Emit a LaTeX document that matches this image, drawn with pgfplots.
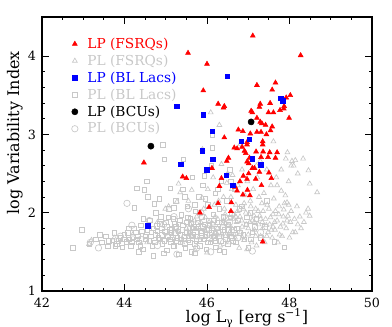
\documentclass[border=0pt]{standalone}
\usepackage{pgfplots}
\pgfplotsset{compat=1.18}
\usepackage{fontspec}
\setmainfont{DejaVu Serif}
\usetikzlibrary{calc}
\definecolor{lgr}{RGB}{200,200,200}
\begin{document}
\begin{tikzpicture}
\begin{axis}[
  scale only axis, width=247.5pt, height=205.5pt,
  xmin=42, xmax=50, ymin=1, ymax=4.5,
  xtick={42,44,46,48,50}, ytick={1,2,3,4},
  minor x tick num=3, minor y tick num=4,
  tick align=inside, tick pos=both,
  major tick length=5pt, minor tick length=2.5pt,
  every tick/.style={black, line width=0.6pt},
  axis line style={black, line width=0.8pt},
  /pgf/number format/assume math mode=true,
  ticklabel style={font=\fontsize{9.5}{11}\selectfont},
  xticklabel style={yshift=-1.5pt},
  yticklabel style={xshift=-1pt},
  xlabel={log L\textsubscript{γ} [erg s\textsuperscript{−1}]},
  ylabel={log Variability Index},
  xlabel style={font=\fontsize{12}{13}\selectfont, at={(axis description cs:0.621,-0.099)}, anchor=center},
  ylabel style={font=\fontsize{12}{13}\selectfont, at={(axis description cs:-0.082,0.577)}, anchor=center},
  legend style={at={(0.085,0.94)}, anchor=north west, draw=none, fill=none,
    font=\fontsize{10.3}{11.5}\selectfont, row sep=-0.6pt, inner sep=1pt},
  legend cell align=left,
]
% PL BL Lacs (grey open squares)
\addplot[only marks, mark=square, mark size=1.7pt, lgr, line width=0.5pt, forget plot] coordinates {
(42.75,1.55)(42.96,1.78)(43.15,1.60)(43.30,1.66)(43.45,1.62)(43.55,1.70)(43.60,1.57)(43.70,1.65)
(43.75,1.74)(43.82,1.60)(43.90,1.68)(43.95,1.56)(44.00,1.72)(44.05,1.63)(44.10,1.80)(44.15,1.58)
(44.20,1.69)(44.24,2.06)(44.30,2.31)(44.28,1.75)(44.35,1.62)(44.40,1.84)(44.45,1.53)(44.48,2.29)
(44.50,1.70)(44.54,2.40)(44.56,2.20)(44.55,1.78)(44.60,1.64)(44.62,1.90)(44.68,1.58)(44.70,1.45)
(44.72,2.11)(44.75,1.72)(44.78,1.83)(44.84,2.18)(44.85,1.66)(44.88,1.95)(44.93,2.87)(44.96,2.68)
(44.92,1.60)(44.98,1.76)(45.00,1.88)(45.02,1.52)(45.05,1.70)(45.08,2.05)(45.11,2.31)(45.12,1.63)
(45.15,1.80)(45.18,1.92)(45.20,1.57)(45.22,1.74)(45.25,2.15)(45.28,1.68)(45.30,1.85)(45.32,1.47)
(45.35,1.62)(45.38,1.97)(45.40,1.78)(45.42,2.30)(45.43,2.68)(45.45,1.70)(45.48,1.55)(45.50,1.88)
(45.52,2.08)(45.55,1.65)(45.58,1.75)(45.60,1.93)(45.62,1.50)(45.65,2.45)(45.68,1.82)(45.70,1.60)
(45.72,2.02)(45.75,1.70)(45.78,1.88)(45.80,2.20)(45.82,1.58)(45.85,1.77)(45.88,1.95)(45.90,2.35)
(45.92,1.66)(45.94,2.47)(45.95,1.85)(45.98,1.53)(46.00,1.72)(46.02,2.10)(46.05,1.90)(46.08,1.62)
(46.10,2.60)(46.13,2.83)(46.13,2.99)(46.12,1.80)(46.15,1.98)(46.18,1.68)(46.20,2.25)(46.22,1.56)
(46.25,1.88)(46.28,1.75)(46.30,2.05)(46.33,1.64)(46.35,2.40)(46.38,1.82)(46.40,1.95)(46.42,1.50)
(46.45,1.72)(46.48,2.15)(46.50,1.60)(46.52,1.85)(46.55,2.55)(46.58,1.70)(46.60,1.98)(46.65,1.78)
(46.68,2.30)(46.70,1.62)(46.75,1.90)(46.80,1.74)(46.85,2.08)(46.90,1.66)(46.95,1.85)(47.00,1.55)
(47.05,2.00)(47.10,1.75)(47.20,1.92)(47.30,1.68)(47.40,1.82)(47.63,1.63)(47.88,1.56)(47.45,2.15)
(44.65,1.75)(44.82,1.68)(45.10,1.78)(45.35,1.72)(45.62,1.70)(45.88,1.74)(46.15,1.70)(46.42,1.78)
(44.30,1.66)(44.90,1.80)(45.25,1.82)(45.65,1.80)(46.05,1.78)(46.60,1.68)(43.85,1.64)(44.12,1.66)
(43.40,1.72)(43.62,1.64)(43.78,1.58)(43.98,1.66)(44.08,1.74)(44.18,1.62)(44.22,1.80)(44.32,1.70)
(44.38,1.58)(44.42,1.76)(44.52,1.66)(44.58,1.84)(44.64,1.70)(44.70,1.80)(44.74,1.62)(44.80,1.76)
(44.86,1.86)(44.90,1.72)(44.96,1.64)(45.02,1.82)(45.06,1.94)(45.10,1.66)(45.14,1.74)(45.18,1.58)
(45.22,1.86)(45.26,1.64)(45.30,1.76)(45.34,1.90)(45.38,1.66)(45.42,1.84)(45.46,1.60)(45.50,1.74)
(45.54,1.94)(45.58,1.62)(45.62,1.86)(45.66,1.72)(45.70,2.10)(45.74,1.64)(45.78,1.80)(45.84,1.66)
(45.90,1.82)(45.96,1.70)(46.02,1.62)(46.06,1.84)(46.10,1.74)(46.16,1.90)(46.20,1.64)(46.24,1.80)
(46.30,1.70)(46.36,1.88)(46.44,1.66)(46.50,1.78)(46.56,1.94)(46.62,1.64)(46.72,1.80)(46.78,2.05)
(46.88,1.72)(46.96,1.94)(47.06,1.66)(47.16,1.82)(44.46,1.92)(44.76,2.00)(45.20,2.06)(45.46,2.20)
(45.96,2.18)(46.26,2.30)(46.58,2.40)(44.35,1.50)(44.95,1.48)(45.70,1.48)(46.30,1.52)
};
% PL FSRQs (grey open triangles)
\addplot[only marks, mark=triangle, mark size=2.1pt, lgr, line width=0.5pt, forget plot] coordinates {
(43.14,1.60)(43.20,1.65)(43.75,1.68)(44.20,1.72)(44.55,1.62)(44.80,1.88)(44.99,2.05)(45.07,2.08)
(45.15,1.70)(45.28,1.77)(45.27,2.14)(45.31,2.37)(45.35,2.26)(45.40,1.62)(45.55,2.15)(45.60,1.85)
(45.63,2.29)(45.71,1.52)(45.75,1.95)(45.80,1.68)(45.88,2.19)(45.89,2.81)(45.92,2.05)(45.95,1.78)
(46.00,1.49)(46.02,2.30)(46.05,1.88)(46.09,3.28)(46.10,1.65)(46.15,2.45)(46.20,1.95)(46.22,1.75)
(46.28,2.15)(46.30,3.12)(46.32,1.58)(46.35,2.62)(46.38,1.85)(46.42,2.05)(46.45,1.70)(46.48,2.38)
(46.50,1.92)(46.55,1.62)(46.58,2.20)(46.60,1.80)(46.62,2.48)(46.65,1.98)(46.68,1.68)(46.70,2.10)
(46.72,1.88)(46.75,2.35)(46.78,1.55)(46.80,1.95)(46.81,2.88)(46.82,1.75)(46.85,2.55)(46.88,2.05)
(46.90,1.65)(46.92,2.22)(46.95,1.85)(46.97,1.53)(46.98,2.40)(47.00,1.72)(47.02,1.98)(47.05,2.15)
(47.08,1.62)(47.10,1.90)(47.12,2.30)(47.15,1.78)(47.18,2.05)(47.20,1.58)(47.22,2.45)(47.25,1.85)
(47.28,1.96)(47.29,2.66)(47.30,1.70)(47.33,2.12)(47.35,1.80)(47.38,2.25)(47.40,1.62)(47.42,1.92)
(47.45,2.55)(47.48,1.75)(47.50,2.05)(47.52,1.85)(47.55,2.35)(47.58,1.68)(47.60,1.98)(47.61,2.91)
(47.62,2.18)(47.65,1.78)(47.68,2.45)(47.70,1.90)(47.72,1.62)(47.75,2.08)(47.78,1.82)(47.80,2.28)
(47.82,1.70)(47.85,1.95)(47.88,2.12)(47.90,2.22)(47.91,2.69)(47.92,1.80)(47.94,1.90)(47.94,2.13)
(47.95,2.77)(47.98,2.10)(47.98,2.40)(48.00,1.68)(48.02,1.88)(48.04,2.60)(48.06,2.66)(48.08,1.75)
(48.10,2.60)(48.14,2.67)(48.14,1.75)(48.20,1.85)(48.25,1.95)(48.33,2.69)(48.45,2.05)(48.46,2.54)
(48.49,1.96)(48.49,2.37)(48.67,2.26)(46.25,1.80)(46.55,1.75)(46.85,1.82)(47.15,1.88)(47.45,1.70)
(46.40,1.90)(46.70,1.95)(47.00,1.80)(47.30,1.92)(47.60,1.82)(46.10,1.82)(45.85,1.88)(45.50,1.80)
(45.60,1.72)(45.70,1.90)(45.82,1.80)(45.96,1.94)(46.04,1.72)(46.14,1.86)(46.18,2.10)(46.26,1.92)
(46.34,1.72)(46.44,1.98)(46.52,1.84)(46.62,1.92)(46.66,1.72)(46.74,2.02)(46.84,1.90)(46.86,1.68)
(46.94,2.00)(47.04,1.88)(47.06,2.08)(47.14,1.96)(47.18,1.70)(47.24,2.02)(47.26,2.20)(47.34,1.88)
(47.36,2.02)(47.44,1.84)(47.46,2.10)(47.54,1.94)(47.56,1.78)(47.64,1.88)(47.66,2.02)(47.74,1.98)
(47.76,1.72)(47.84,1.86)(47.86,2.04)(47.96,1.96)(48.04,2.02)(48.12,1.92)(48.18,2.08)(48.28,1.80)
(48.35,1.88)(48.40,2.00)(46.90,2.12)(46.60,2.30)(46.40,2.20)(47.70,2.35)(47.80,2.55)(48.20,2.50)
(47.20,2.60)(46.50,2.50)
};
% PL BCUs (grey open circles)
\addplot[only marks, mark=o, mark size=2.4pt, lgr, line width=0.5pt, forget plot] coordinates {
(43.17,1.62)(43.37,1.55)(44.06,2.12)(44.18,1.84)(43.90,1.70)(44.40,1.66)(44.60,1.90)(44.80,1.58)
(45.00,1.75)(45.27,1.47)(45.20,1.95)(45.45,1.68)(45.60,1.80)(45.75,1.55)(45.85,2.00)(46.09,1.50)
(46.20,1.72)(46.40,1.62)(46.55,1.88)(46.75,1.68)(47.10,1.51)(47.30,1.75)(44.95,1.85)(45.55,2.05)
(46.00,1.80)
};
% LP FSRQs (red filled triangles)
\addplot[only marks, mark=triangle*, mark size=2.1pt, red, forget plot] coordinates {
(47.11,4.26)(45.54,4.04)(48.27,4.01)(46.00,3.90)(45.91,3.56)(47.21,3.63)(47.66,3.66)(47.58,3.57)
(48.02,3.50)(47.92,3.47)(46.27,3.39)(46.42,3.36)(46.40,3.34)(47.29,3.39)(47.27,3.35)(47.53,3.40)
(47.87,3.36)(47.86,3.33)(47.77,3.31)(47.07,3.30)(47.10,3.28)(47.49,3.28)(47.61,3.28)(47.21,3.21)
(47.99,3.21)(47.29,3.16)(47.33,3.14)(47.42,3.12)(47.58,3.10)(47.54,3.05)(46.76,3.06)(46.87,3.04)
(47.05,3.01)(47.21,3.03)(47.31,3.03)(47.44,3.00)(46.42,2.96)(47.35,2.91)(47.35,2.87)(46.97,2.90)
(46.97,2.87)(46.85,2.84)(46.66,2.83)(46.73,2.82)(46.91,2.79)(46.94,2.76)(47.19,2.78)(47.36,2.78)
(47.52,2.77)(47.70,2.77)(47.66,2.70)(47.03,2.70)(46.52,2.70)(46.48,2.66)(47.31,2.71)(47.48,2.71)
(46.97,2.65)(47.01,2.63)(46.12,2.57)(47.10,2.57)(47.15,2.57)(47.27,2.52)(47.50,2.51)(47.01,2.50)
(45.41,2.46)(45.50,2.44)(46.35,2.44)(46.88,2.47)(47.56,2.44)(47.18,2.43)(46.97,2.43)(46.80,2.40)
(46.30,2.34)(47.32,2.35)(46.68,2.33)(44.47,2.64)(46.73,2.28)(46.98,2.29)(46.87,2.23)(47.04,2.22)
(46.27,2.12)(46.59,2.13)(46.05,2.07)(46.58,2.02)(45.83,2.00)(47.35,1.63)
};
% LP BL Lacs (blue filled squares)
\addplot[only marks, mark=square*, mark size=1.7pt, blue, forget plot] coordinates {
(46.49,3.74)(47.79,3.46)(47.84,3.43)(45.91,3.25)(45.27,3.36)(46.13,3.04)(46.83,2.91)(47.02,2.94)
(45.88,2.79)(46.14,2.68)(47.10,2.69)(46.00,2.55)(47.30,2.61)(46.47,2.48)(46.63,2.35)(45.37,2.62)
(44.56,1.83)
};
% LP BCUs (black filled circles)
\addplot[only marks, mark=*, mark size=2.3pt, black, forget plot] coordinates {
(47.07,3.16)(44.64,2.85)
};
\addlegendimage{only marks, mark=triangle*, mark size=2.1pt, red}
\addlegendentry{\hspace*{5pt}\textcolor{red}{LP (FSRQs)}}
\addlegendimage{only marks, mark=triangle, mark size=2.1pt, lgr, line width=0.5pt}
\addlegendentry{\hspace*{5pt}\textcolor{lgr}{PL (FSRQs)}}
\addlegendimage{only marks, mark=square*, mark size=1.7pt, blue}
\addlegendentry{\hspace*{5pt}\textcolor{blue}{LP (BL Lacs)}}
\addlegendimage{only marks, mark=square, mark size=1.7pt, lgr, line width=0.5pt}
\addlegendentry{\hspace*{5pt}\textcolor{lgr}{PL (BL Lacs)}}
\addlegendimage{only marks, mark=*, mark size=2.3pt, black}
\addlegendentry{\hspace*{5pt}LP (BCUs)}
\addlegendimage{only marks, mark=o, mark size=2.4pt, lgr, line width=0.5pt}
\addlegendentry{\hspace*{5pt}\textcolor{lgr}{PL (BCUs)}}
\end{axis}
\pgfresetboundingbox
\path ($(current axis.south west)+(-31.5pt,-27pt)$) rectangle ($(current axis.north east)+(15pt,12.75pt)$);
\end{tikzpicture}
\end{document}
